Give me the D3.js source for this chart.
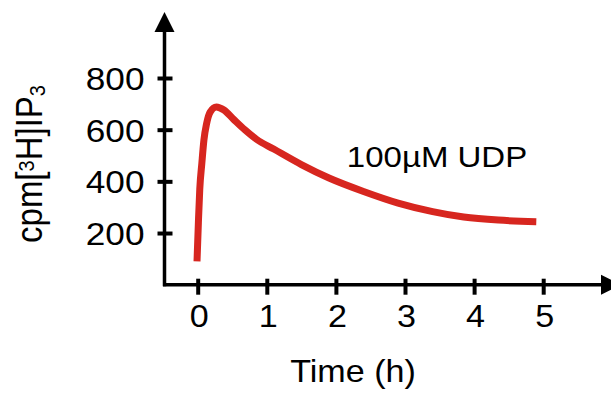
<!DOCTYPE html>
<html>
<head>
<meta charset="utf-8">
<script src="https://cdn.jsdelivr.net/npm/d3@7"></script>
<style>
  body { margin: 0; background: #fff; }
  text { font-family: "Liberation Sans", Arial, sans-serif; fill: #000; }
</style>
</head>
<body>
<svg id="chart" width="611" height="394"></svg>
<script>
// time (h) and cpm values
const times = [-0.01, 0.01, 0.03, 0.06, 0.09, 0.13, 0.18, 0.27, 0.38, 0.52, 0.68, 0.85, 1.1, 1.5, 1.9, 2.4, 2.9, 3.4, 3.85, 4.35, 4.9];
const cpm = [90, 240, 370, 470, 560, 625, 668, 688, 676, 640, 600, 563, 525, 465, 413, 361, 316, 283, 262, 250, 244];
const xTicks = [0, 1, 2, 3, 4, 5];
const yTicks = [200, 400, 600, 800];
const seriesLabel = '100µM UDP';

const svg = d3.select('#chart');
const stretch = 1.1;

const x = d3.scaleLinear().domain([0, 5]).range([197.7, 543.2]);
const y = d3.scaleLinear().domain([0, 800]).range([284.7, 78]);

const x0 = 164.5, yBase = y(0);

// axis lines with arrow heads
svg.append('line')
  .attr('x1', x0).attr('x2', x0)
  .attr('y1', yBase + 1.5).attr('y2', 30)
  .attr('stroke', '#000').attr('stroke-width', 3.5);
svg.append('path')
  .attr('d', `M${x0 - 10},32 L${x0},12 L${x0 + 10},32 Z`)
  .attr('fill', '#000');

svg.append('line')
  .attr('x1', x0 - 1.5).attr('x2', 603)
  .attr('y1', yBase).attr('y2', yBase)
  .attr('stroke', '#000').attr('stroke-width', 3.5);
svg.append('path')
  .attr('d', `M601,${yBase - 10} L621,${yBase} L601,${yBase + 10} Z`)
  .attr('fill', '#000');

// y axis ticks
const yAxis = svg.append('g')
  .attr('transform', `translate(${x0},0)`)
  .call(d3.axisLeft(y).tickValues(yTicks).tickSizeOuter(0));
yAxis.select('.domain').remove();
yAxis.selectAll('.tick line')
  .attr('x1', -7).attr('x2', 8)
  .attr('stroke', '#000').attr('stroke-width', 4);
yAxis.selectAll('.tick text').remove();
yAxis.selectAll('.tick').append('text')
  .attr('transform', `translate(-20,0) scale(${stretch},1)`)
  .attr('dy', '0.36em')
  .attr('text-anchor', 'end')
  .style('font-size', '32px')
  .text(d => d);

// x axis ticks
const xAxis = svg.append('g')
  .attr('transform', `translate(0,${yBase})`)
  .call(d3.axisBottom(x).tickValues(xTicks).tickSizeOuter(0));
xAxis.select('.domain').remove();
xAxis.selectAll('.tick line')
  .attr('y1', -6).attr('y2', 10)
  .attr('stroke', '#000').attr('stroke-width', 4);
xAxis.selectAll('.tick text').remove();
xAxis.selectAll('.tick').append('text')
  .attr('transform', `translate(1,42) scale(${stretch},1)`)
  .attr('text-anchor', 'middle')
  .style('font-size', '31px')
  .text(d => d);

// trace
const line = d3.line()
  .x((d, i) => x(times[i]))
  .y(d => y(d))
  .curve(d3.curveMonotoneX);

svg.append('path')
  .datum(cpm)
  .attr('d', line)
  .attr('fill', 'none')
  .attr('stroke', '#d7261f')
  .attr('stroke-width', 7)
  .attr('stroke-linejoin', 'round');

// labels
svg.append('text')
  .attr('transform', `translate(437,167) scale(${stretch},1)`)
  .attr('text-anchor', 'middle')
  .style('font-size', '30px')
  .text(seriesLabel);

svg.append('text')
  .attr('transform', `translate(353,382) scale(${stretch},1)`)
  .attr('text-anchor', 'middle')
  .style('font-size', '31px')
  .text('Time (h)');

const yLab = svg.append('text')
  .attr('transform', `translate(42,164) scale(${stretch},1) rotate(-90)`)
  .attr('text-anchor', 'middle')
  .style('font-size', '33px');
yLab.append('tspan').text('cpm[');
yLab.append('tspan').attr('baseline-shift', '40%').style('font-size', '20px').text('3');
yLab.append('tspan').text('H]IP');
yLab.append('tspan').attr('baseline-shift', '-15%').style('font-size', '20px').text('3');
</script>
</body>
</html>
